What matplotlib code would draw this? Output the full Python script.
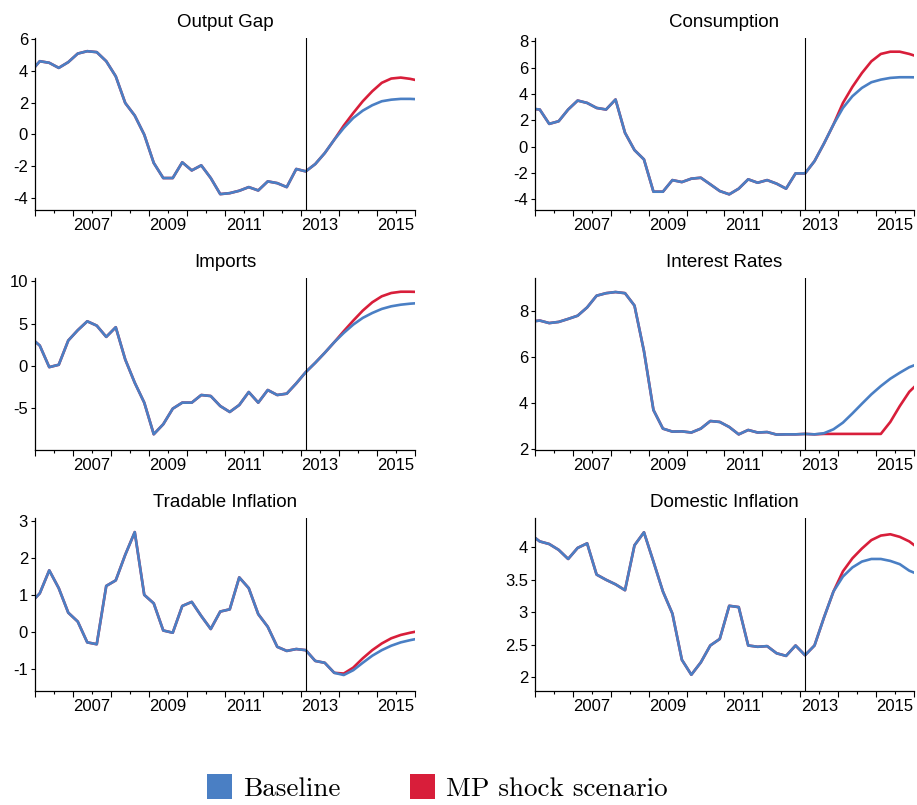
import numpy as np
import matplotlib
matplotlib.use('Agg')
import matplotlib.pyplot as plt
from matplotlib.patches import Patch
from matplotlib.ticker import FixedLocator, FuncFormatter

plt.rcParams['font.family'] = ['Liberation Sans', 'DejaVu Sans']

# quarterly dates 2005Q4 .. 2016Q1, plotted at the middle of each quarter
DATES = 2005.875 + 0.25 * np.arange(42)
FORECAST_START = 2013.125
BLUE = '#4a7fc4'
RED = '#d81e3a'

# ---- series (history + baseline forecast / MP shock forecast) ----
og_hist = [3.9, 4.6, 4.5, 4.18, 4.54, 5.08, 5.23, 5.17, 4.6, 3.65, 1.97, 1.18,
           -0.02, -1.8, -2.75, -2.75, -1.76, -2.27, -1.95, -2.75, -3.76, -3.7,
           -3.55, -3.32, -3.53, -2.96, -3.07, -3.32, -2.18, -2.33, -1.87, -1.18,
           -0.34]
og_base = [0.4, 1.03, 1.49, 1.83, 2.08, 2.18, 2.23, 2.23, 2.2]
og_shock = [0.55, 1.34, 2.08, 2.71, 3.24, 3.51, 3.57, 3.49, 3.36]

cons_hist = [2.9, 2.83, 1.74, 1.94, 2.83, 3.51, 3.33, 2.95, 2.83, 3.59, 1.06,
             -0.25, -0.96, -3.41, -3.41, -2.53, -2.68, -2.42, -2.35, -2.85,
             -3.36, -3.61, -3.18, -2.47, -2.73, -2.53, -2.8, -3.18, -2.02,
             -2.02, -1.09, 0.25, 1.69]
cons_base = [2.95, 3.84, 4.47, 4.9, 5.1, 5.23, 5.28, 5.28, 5.27]
cons_shock = [3.33, 4.55, 5.6, 6.49, 7.05, 7.22, 7.22, 7.05, 6.82]

imp_hist = [3.4, 2.43, -0.12, 0.16, 3.02, 4.24, 5.29, 4.78, 3.45, 4.59, 0.78,
            -1.96, -4.31, -8.04, -6.86, -5.02, -4.31, -4.31, -3.41, -3.53,
            -4.71, -5.41, -4.59, -3.06, -4.31, -2.82, -3.41, -3.25, -2.04,
            -0.71, 0.39, 1.57, 2.82]
imp_base = [3.92, 4.9, 5.69, 6.27, 6.75, 7.06, 7.25, 7.37, 7.45]
imp_shock = [4.12, 5.37, 6.55, 7.53, 8.24, 8.63, 8.78, 8.78, 8.75]

ir_hist = [7.55, 7.6, 7.49, 7.54, 7.67, 7.81, 8.17, 8.68, 8.79, 8.84, 8.79,
           8.25, 6.27, 3.71, 2.9, 2.77, 2.78, 2.73, 2.9, 3.23, 3.19, 2.97,
           2.65, 2.84, 2.73, 2.75, 2.64, 2.65, 2.65, 2.67, 2.65]
ir_base = [2.7, 2.87, 3.16, 3.56, 3.98, 4.39, 4.75, 5.07, 5.33, 5.57, 5.73]
ir_shock = [2.67, 2.67, 2.67, 2.67, 2.67, 2.67, 2.67, 3.19, 3.88, 4.5, 4.9]

ti_hist = [0.78, 1.05, 1.67, 1.19, 0.53, 0.29, -0.27, -0.32, 1.25, 1.4, 2.09,
           2.7, 1.01, 0.78, 0.05, -0.01, 0.71, 0.82, 0.44, 0.09, 0.56, 0.62,
           1.48, 1.19, 0.49, 0.15, -0.39, -0.5, -0.45, -0.48, -0.77, -0.82,
           -1.09]
ti_base = [-1.15, -1.02, -0.82, -0.63, -0.48, -0.36, -0.27, -0.21, -0.16]
ti_shock = [-1.11, -0.95, -0.7, -0.48, -0.3, -0.16, -0.07, -0.01, 0.04]

di_hist = [4.2, 4.09, 4.05, 3.96, 3.82, 3.99, 4.06, 3.58, 3.5, 3.43, 3.34,
           4.03, 4.23, 3.78, 3.32, 2.98, 2.27, 2.04, 2.23, 2.49, 2.59, 3.1,
           3.08, 2.49, 2.47, 2.48, 2.37, 2.33, 2.49, 2.34, 2.49, 2.92, 3.32]
di_base = [3.55, 3.69, 3.78, 3.82, 3.82, 3.79, 3.74, 3.64, 3.58]
di_shock = [3.63, 3.83, 3.98, 4.11, 4.18, 4.2, 4.16, 4.09, 3.98]

PANELS = [
    ('Output Gap', og_hist, og_base, og_shock, [-4, -2, 0, 2, 4, 6], (-4.76, 6.06)),
    ('Consumption', cons_hist, cons_base, cons_shock, [-4, -2, 0, 2, 4, 6, 8], (-4.8, 8.26)),
    ('Imports', imp_hist, imp_base, imp_shock, [-5, 0, 5, 10], (-9.9, 10.4)),
    ('Interest Rates', ir_hist, ir_base, ir_shock, [2, 4, 6, 8], (1.97, 9.45)),
    ('Tradable Inflation', ti_hist, ti_base, ti_shock, [-1, 0, 1, 2, 3], (-1.58, 3.08)),
    ('Domestic Inflation', di_hist, di_base, di_shock, [2, 2.5, 3, 3.5, 4], (1.79, 4.45)),
]

YEARS = np.arange(2006, 2017)
HALF_YEARS = YEARS[:-1] + 0.5

W, H = 917, 805
fig = plt.figure(figsize=(W / 100, H / 100), dpi=100)

# axes boxes in pixels: (left, right) and (top, bottom)
col_x = [(35, 415), (535, 914)]
row_y = [(38, 210), (278, 450), (518, 691)]

for k, (title, hist, base, shock, yticks, ylim) in enumerate(PANELS):
    r, c = divmod(k, 2)
    x0, x1 = col_x[c]
    y0, y1 = row_y[r]
    ax = fig.add_axes([x0 / W, 1 - y1 / H, (x1 - x0) / W, (y1 - y0) / H])

    y_base = np.array(hist + base)
    y_shock = np.array(hist + shock)
    ax.plot(DATES, y_shock, color=RED, lw=1.9, solid_joinstyle='round')
    ax.plot(DATES, y_base, color=BLUE, lw=1.9, solid_joinstyle='round')
    ax.axvline(FORECAST_START, color='black', lw=0.8)

    ax.set_xlim(2006, 2016)
    ax.set_ylim(*ylim)
    ax.set_title(title, fontsize=13.5, pad=8)

    for side in ('top', 'right'):
        ax.spines[side].set_visible(False)
    ax.spines['left'].set_linewidth(0.9)
    ax.spines['bottom'].set_linewidth(0.9)

    # year ticks unlabelled, labels sit on the half-year minor ticks
    ax.xaxis.set_major_locator(FixedLocator(YEARS))
    ax.xaxis.set_major_formatter(FuncFormatter(lambda v, p: ''))
    ax.xaxis.set_minor_locator(FixedLocator(HALF_YEARS))
    ax.xaxis.set_minor_formatter(
        FuncFormatter(lambda v, p: str(int(v)) if int(v) % 2 == 1 else ''))
    ax.tick_params(axis='x', which='major', length=4, width=0.8, direction='out')
    ax.tick_params(axis='x', which='minor', length=2.5, width=0.8,
                   direction='out', labelsize=12, pad=3)

    ax.set_yticks(yticks)
    ax.yaxis.set_major_formatter(FuncFormatter(lambda v, p: '%g' % v))
    ax.tick_params(axis='y', length=3, width=0.8, direction='out',
                   labelsize=12, pad=2)

handles = [Patch(facecolor=BLUE, edgecolor='none', label='Baseline'),
           Patch(facecolor=RED, edgecolor='none', label='MP shock scenario')]
fig.legend(handles=handles, loc='center', bbox_to_anchor=(0.477, 0.022),
           ncol=2, frameon=False, handlelength=0.9, handleheight=1.05,
           handletextpad=0.4, columnspacing=2.6,
           prop={'family': 'cmr10', 'size': 19.5})

fig.savefig('out.png', dpi=100)
